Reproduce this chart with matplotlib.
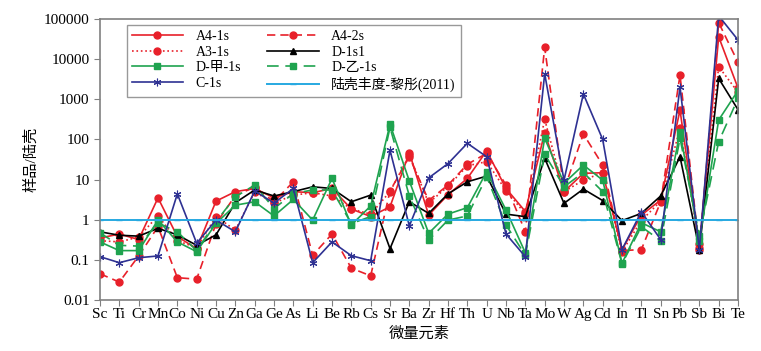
import matplotlib
matplotlib.use("Agg")
import matplotlib.pyplot as plt
from matplotlib.ticker import FixedLocator, NullLocator, FuncFormatter

plt.rcParams['font.family'] = ['Liberation Serif', 'Noto Sans CJK SC']

# --- Datos ---
elementos = ["Sc", "Ti", "Cr", "Mn", "Co", "Ni", "Cu", "Zn", "Ga", "Ge", "As",
             "Li", "Be", "Rb", "Cs", "Sr", "Ba", "Zr", "Hf", "Th", "U", "Nb",
             "Ta", "Mo", "W", "Ag", "Cd", "In", "Tl", "Sn", "Pb", "Sb", "Bi", "Te"]

a4_1s = [0.35, 0.44, 0.32, 3.5, 0.38, 0.19, 2.9, 5.0, 6.0, 3.5, 5.0,
         4.7, 6.0, 1.85, 1.2, 2.1, 47, 1.3, 4.2, 10.7, 52, 6.0,
         1.6, 147, 5.0, 14.3, 14.8, 0.18, 1.3, 3.1, 540, 0.2, 36000, 1900]
a4_2s = [0.045, 0.028, 0.125, 0.67, 0.036, 0.033, 0.8, 4.0, 6.5, 2.8, 8.8,
         0.13, 0.44, 0.062, 0.04, 5.2, 37, 3.0, 7.3, 24, 45, 7.3,
         0.5, 19500, 5.5, 137, 23, 0.17, 0.18, 2.8, 4000, 0.18, 81000, 8300]
a3_1s = [0.3, 0.28, 0.37, 1.26, 0.3, 0.2, 1.2, 0.55, 4.9, 2.6, 4.1,
         4.7, 3.9, 1.85, 1.38, 5.0, 40, 2.6, 6.8, 22, 28, 5.3,
         1.4, 316, 5.0, 9.7, 14.8, 0.16, 0.95, 2.9, 190, 0.25, 6500, 1500]
d_1s1 = [0.5, 0.41, 0.39, 0.61, 0.42, 0.23, 0.42, 2.65, 5.5, 3.9, 5.0,
         6.6, 6.0, 2.8, 4.1, 0.19, 2.8, 1.44, 4.4, 8.8, 12.2, 1.38,
         1.19, 34, 2.56, 5.8, 3.0, 0.95, 1.44, 3.9, 37, 0.18, 3300, 550]
d_jia = [0.28, 0.17, 0.17, 0.98, 0.28, 0.16, 0.81, 2.3, 2.8, 1.24, 3.2,
         0.98, 10.7, 0.74, 2.2, 240, 9.2, 0.46, 1.38, 2.0, 15.7, 1.75,
         0.15, 107, 8.1, 23, 9.7, 0.082, 0.84, 0.5, 155, 0.3, 305, 1650]
d_yi = [0.47, 0.23, 0.22, 0.83, 0.5, 0.17, 0.9, 3.7, 7.3, 1.9, 4.5,
        5.5, 5.5, 0.8, 1.2, 200, 3.9, 0.31, 0.98, 1.24, 11.8, 0.74,
        0.13, 43, 6.6, 15, 5.0, 0.08, 0.67, 0.3, 107, 0.4, 88, 1050]
c_1s = [0.12, 0.085, 0.113, 0.125, 4.4, 0.26, 0.98, 0.5, 5.2, 2.6, 6.0,
        0.085, 0.28, 0.127, 0.095, 54, 0.7, 11, 25, 80, 37, 0.44,
        0.12, 4300, 9.7, 1360, 100, 0.18, 1.58, 0.32, 2000, 0.18, 120000, 30000]
corteza = [1] * len(elementos)

yticks = [0.01, 0.1, 1, 10, 100, 1000, 10000, 100000]

# --- Estilos ---
ROJO = "#e8202a"
VERDE = "#1fa34f"
AZUL = "#2e3192"
CIAN = "#27a9e1"

series = [
    ("A4-1s", a4_1s, dict(color=ROJO, ls="-", marker="o", ms=5)),
    ("A4-2s", a4_2s, dict(color=ROJO, ls=(0, (5, 3)), marker="o", ms=5)),
    ("A3-1s", a3_1s, dict(color=ROJO, ls=":", marker="o", ms=5)),
    ("D-1s1", d_1s1, dict(color="black", ls="-", marker="^", ms=4)),
    ("D-甲-1s", d_jia, dict(color=VERDE, ls="-", marker="s", ms=5)),
    ("D-乙-1s", d_yi, dict(color=VERDE, ls=(0, (7, 4)), marker="s", ms=5)),
    ("C-1s", c_1s, dict(color=AZUL, ls="-", marker=(6, 2, 0), ms=5.5, mew=0.8)),
    ("陆壳丰度-黎彤(2011)", corteza, dict(color=CIAN, ls="-", marker="_", ms=4, lw=1.4)),
]

fig = plt.figure(figsize=(7.61, 3.51), dpi=100)
ax = fig.add_axes([0.1314, 0.1453, 0.8384, 0.8006])

x = list(range(len(elementos)))
handles = {}
for nombre, vals, st in series:
    kw = dict(lw=1.2)
    kw.update(st)
    h, = ax.plot(x, vals, label=nombre, **kw)
    handles[nombre] = h

ax.set_yscale("log")
ax.set_ylim(0.01, 100000)
ax.set_xlim(0, len(elementos) - 1)
ax.yaxis.set_major_locator(FixedLocator(yticks))
ax.yaxis.set_minor_locator(NullLocator())
ax.yaxis.set_major_formatter(FuncFormatter(lambda v, _: f"{v:g}" if v < 1e5 else "100000"))
ax.set_xticks(x)
ax.set_xticklabels(elementos)
ax.tick_params(axis="both", labelsize=11, direction="out", length=4, color="#808080")
ax.tick_params(axis="x", pad=2)

for s in ax.spines.values():
    s.set_color("#808080")
    s.set_linewidth(1.2)

ax.set_ylabel("样品/陆壳", fontsize=11, labelpad=4)
ax.set_xlabel("微量元素", fontsize=11, labelpad=4)

# leyenda en dos columnas, orden por filas como en la figura original
orden = ["A4-1s", "A3-1s", "D-甲-1s", "C-1s",
         "A4-2s", "D-1s1", "D-乙-1s", "陆壳丰度-黎彤(2011)"]
leg = ax.legend([handles[n] for n in orden], orden, ncol=2, loc="upper left",
                bbox_to_anchor=(0.042, 0.979), fontsize=10, frameon=True, fancybox=False,
                handlelength=3.7, columnspacing=1.9, labelspacing=0.2,
                borderpad=0.35, handletextpad=0.9, borderaxespad=0)
leg.get_frame().set_edgecolor("#808080")
leg.get_frame().set_linewidth(1.0)

fig.savefig("out.png", dpi=100)
